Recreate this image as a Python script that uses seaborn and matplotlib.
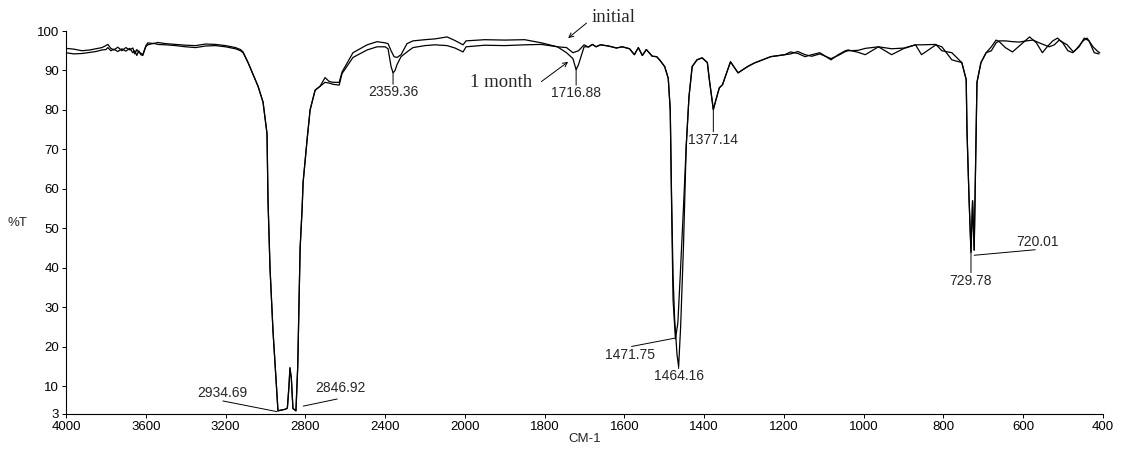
import numpy as np
import pandas as pd
import seaborn as sns
import matplotlib.pyplot as plt

# IR spectra, %T vs wavenumber (cm-1)
wn_initial = [4000, 3960, 3920, 3880, 3850, 3820, 3800, 3790, 3775, 3760, 3740, 3720, 3700, 3680, 3665,
              3655, 3645, 3635, 3625, 3615, 3600, 3590, 3560, 3540, 3500, 3450, 3400, 3350, 3300, 3250,
              3200, 3150, 3125, 3112, 3087, 3062, 3037, 3012, 2992, 2987, 2977, 2962, 2945, 2937, 2920,
              2900, 2890, 2882, 2877, 2870, 2862, 2847, 2838, 2832, 2826, 2816, 2811, 2791, 2776, 2751,
              2726, 2701, 2680, 2661, 2630, 2616, 2561, 2490, 2440, 2400, 2385, 2370, 2355, 2340, 2320,
              2290, 2260, 2200, 2150, 2089, 2050, 2009, 1997, 1950, 1900, 1850, 1808, 1768, 1745, 1729,
              1715, 1701, 1690, 1680, 1671, 1660, 1640, 1620, 1605, 1587, 1575, 1565, 1555, 1545, 1530,
              1519, 1511, 1499, 1490, 1485, 1482, 1478, 1472, 1466, 1460, 1452, 1445, 1438, 1430, 1418,
              1405, 1392, 1387, 1377, 1372, 1362, 1354, 1334, 1315, 1291, 1274, 1233, 1198, 1183, 1165,
              1147, 1130, 1110, 1082, 1064, 1046, 1039, 1014, 996, 963, 930, 895, 870, 855, 819,
              804, 779, 754, 743, 741, 736, 731, 727, 723, 718, 716, 706, 693, 680, 668,
              660, 645, 627, 610, 584, 567, 552, 540, 526, 514, 501, 488, 476, 466, 450,
              440, 425, 413, 408]
t_initial = [95.6, 95.4, 95.0, 95.2, 95.5, 95.8, 96.3, 96.6, 95.6, 95.2, 95.9, 95.0, 95.8, 95.2, 95.7,
             94.2, 95.3, 94.6, 94.4, 94.0, 96.2, 97.0, 96.8, 97.1, 96.8, 96.6, 96.4, 96.3, 96.7, 96.6,
             96.3, 95.8, 95.3, 94.7, 92.0, 89.0, 86.0, 82.0, 74.0, 57.0, 40.0, 24.0, 10.0, 3.8, 4.0,
             4.2, 4.5, 10.0, 14.8, 12.0, 4.4, 3.8, 15.0, 30.0, 45.0, 55.0, 61.7, 72.5, 80.0, 85.0,
             86.0, 88.2, 87.2, 87.0, 87.0, 89.6, 94.5, 96.5, 97.3, 97.0, 96.8, 95.0, 93.5, 93.3, 94.0,
             96.8, 97.5, 97.8, 98.0, 98.5, 97.6, 96.5, 97.5, 97.8, 97.7, 97.8, 97.0, 96.0, 95.8, 94.5,
             95.0, 96.5, 95.9, 96.6, 96.0, 96.5, 96.2, 95.7, 96.0, 95.5, 94.0, 95.8, 93.8, 95.3, 93.6,
             93.5, 92.6, 91.0, 88.0, 80.0, 58.0, 32.0, 22.0, 26.0, 38.0, 55.0, 70.8, 83.4, 91.0, 92.7,
             93.2, 92.0, 87.7, 80.1, 82.0, 85.6, 86.4, 92.2, 89.4, 91.0, 91.9, 93.5, 94.0, 94.7, 94.3,
             93.5, 94.0, 94.5, 92.7, 94.0, 95.0, 95.2, 94.6, 94.0, 96.0, 94.0, 95.8, 96.5, 94.0, 96.5,
             96.0, 92.7, 92.0, 87.7, 74.7, 58.0, 44.0, 57.0, 44.5, 74.7, 87.0, 92.0, 94.5, 96.0, 97.7,
             97.3, 95.8, 94.7, 96.2, 98.5, 97.0, 94.5, 96.0, 97.5, 98.2, 97.0, 95.0, 94.5, 95.5, 97.5,
             98.2, 96.0, 94.8, 94.5]

wn_month = [4000, 3960, 3920, 3880, 3850, 3820, 3800, 3790, 3775, 3760, 3740, 3720, 3700, 3680, 3665,
            3655, 3645, 3635, 3625, 3615, 3600, 3590, 3560, 3540, 3500, 3450, 3400, 3350, 3300, 3250,
            3200, 3150, 3125, 3112, 3087, 3062, 3037, 3012, 2992, 2987, 2977, 2962, 2945, 2937, 2920,
            2900, 2890, 2882, 2877, 2870, 2862, 2847, 2838, 2832, 2826, 2816, 2811, 2791, 2776, 2751,
            2726, 2701, 2680, 2661, 2630, 2616, 2561, 2490, 2440, 2400, 2385, 2370, 2360, 2350, 2340,
            2320, 2290, 2260, 2200, 2150, 2089, 2050, 2009, 1997, 1950, 1900, 1850, 1808, 1768, 1745,
            1729, 1721, 1715, 1701, 1690, 1680, 1671, 1660, 1640, 1620, 1605, 1587, 1575, 1565, 1555,
            1545, 1530, 1519, 1511, 1499, 1490, 1485, 1482, 1478, 1474, 1468, 1464, 1459, 1452, 1445,
            1438, 1430, 1418, 1405, 1392, 1387, 1377, 1372, 1362, 1354, 1334, 1315, 1291, 1274, 1233,
            1198, 1183, 1165, 1147, 1130, 1110, 1082, 1064, 1046, 1039, 1014, 996, 963, 930, 895,
            870, 855, 819, 804, 779, 754, 743, 741, 736, 731, 727, 723, 718, 716, 706,
            693, 680, 668, 660, 645, 627, 610, 592, 575, 560, 535, 522, 510, 490, 474,
            460, 447, 435, 422, 410]
t_month = [94.5, 94.2, 94.3, 94.6, 94.8, 95.2, 95.3, 95.8, 95.0, 95.4, 94.8, 95.5, 94.9, 95.6, 94.5,
           95.0, 93.8, 95.0, 94.0, 93.8, 96.0, 96.5, 96.9, 96.6, 96.5, 96.3, 96.0, 95.8, 96.2, 96.3,
           96.0, 95.5, 95.0, 94.5, 92.0, 89.0, 86.0, 82.0, 74.0, 57.0, 40.0, 24.0, 10.0, 3.8, 4.0,
           4.2, 4.5, 10.0, 14.5, 12.0, 4.4, 3.8, 15.0, 30.0, 45.0, 55.0, 61.7, 72.5, 80.0, 85.0,
           86.0, 87.0, 86.8, 86.5, 86.3, 89.2, 93.3, 95.2, 96.0, 96.0, 95.5, 91.0, 89.4, 90.0, 91.5,
           93.5, 94.7, 95.8, 96.3, 96.5, 96.3, 95.7, 94.7, 96.0, 96.4, 96.3, 96.5, 96.6, 96.0, 94.5,
           93.0, 90.2, 91.5, 96.0, 96.0, 96.6, 96.0, 96.5, 96.2, 95.7, 96.0, 95.5, 94.0, 95.8, 93.8,
           95.3, 93.6, 93.5, 92.6, 91.0, 88.0, 80.0, 60.0, 38.0, 27.0, 18.0, 15.0, 25.0, 45.0, 70.8,
           83.4, 91.0, 92.7, 93.2, 92.0, 87.7, 80.1, 82.0, 85.6, 86.4, 92.2, 89.4, 91.0, 91.9, 93.5,
           94.0, 94.2, 94.8, 94.0, 93.6, 94.2, 93.0, 93.8, 94.8, 95.0, 95.1, 95.6, 96.0, 95.5, 95.7,
           96.5, 96.5, 96.6, 95.0, 94.5, 92.0, 87.7, 74.7, 58.0, 44.0, 57.0, 44.5, 74.7, 87.0, 92.0,
           94.5, 95.0, 97.0, 97.5, 97.5, 97.3, 97.2, 97.5, 97.7, 97.0, 96.0, 96.5, 97.7, 96.5, 94.7,
           96.0, 98.2, 97.5, 94.5, 94.2]

x_ticks = [4000, 3600, 3200, 2800, 2400, 2000, 1800, 1600, 1400, 1200, 1000, 800, 600, 400]
y_ticks = [3, 10, 20, 30, 40, 50, 60, 70, 80, 90, 100]

# peak labels: text, text position, leader start, leader end
peaks = [
    ("2934.69", (3218, 8.3), (3213, 6.3), (2942, 3.6)),
    ("2846.92", (2626, 9.5), (2810, 5.0), (2640, 6.8)),
    ("2359.36", (2360, 84.6), (2360, 89.4), (2360, 86.5)),
    ("1716.88", (1721, 84.4), (1721, 90.2), (1721, 86.3)),
    ("1377.14", (1377, 72.5), (1377, 80.1), (1377, 74.5)),
    ("1471.75", (1587, 17.9), (1582, 20.1), (1474, 22.2)),
    ("1464.16", (1463, 12.6), (1464, 15.0), (1464, 14.5)),
    ("729.78", (731, 36.8), (731, 44.0), (731, 38.8)),
    ("720.01", (564, 46.6), (723, 43.2), (570, 44.6)),
]

# series labels: text, text position, arrow tail, arrow tip
series_labels = [
    ("initial", (1628, 103.3), (1695, 102.0), (1741, 98.2)),
    ("1 month", (1910, 86.9), (1808, 87.2), (1741, 92.2)),
]


def fwd(x):
    x = np.asarray(x, dtype=float)
    return np.where(x > 2000, 2000 + (x - 2000) / 2, x)


def inv(u):
    u = np.asarray(u, dtype=float)
    return np.where(u > 2000, 2000 + (u - 2000) * 2, u)


sns.set_style('ticks')
plt.rcParams['font.family'] = ['Liberation Sans', 'DejaVu Sans']

fig = plt.figure(figsize=(11.28, 4.59), dpi=100)
ax = fig.add_axes([66 / 1128, 1 - 414 / 459, 1037 / 1128, 383 / 459])

df_i = pd.DataFrame({'cm': wn_initial, 'T': t_initial})
df_m = pd.DataFrame({'cm': wn_month, 'T': t_month})
sns.lineplot(data=df_i, x='cm', y='T', ax=ax, color='black', lw=0.9, sort=False, estimator=None)
sns.lineplot(data=df_m, x='cm', y='T', ax=ax, color='black', lw=0.9, sort=False, estimator=None)

ax.set_xscale('function', functions=(fwd, inv))
ax.set_xlim(4000, 400)
ax.set_ylim(3, 100)
ax.set_xticks(x_ticks)
ax.set_xticklabels([str(t) for t in x_ticks])
ax.set_yticks(y_ticks)
ax.set_yticklabels([str(t) for t in y_ticks])
ax.tick_params(labelsize=9.5, length=3, width=0.7, colors='black', pad=2)
ax.set_xlabel('CM-1', fontsize=9.5, labelpad=0)
ax.set_ylabel('%T', fontsize=9.5, rotation=0, labelpad=14, va='center')
sns.despine(ax=ax)
for s in ['left', 'bottom']:
    ax.spines[s].set_linewidth(0.8)
    ax.spines[s].set_color('black')

for txt, pos, p0, p1 in peaks:
    ax.text(pos[0], pos[1], txt, fontsize=10, ha='center', va='center')
    ax.annotate('', xy=p1, xytext=p0, annotation_clip=False,
                arrowprops=dict(arrowstyle='-', lw=0.7, color='black', shrinkA=0, shrinkB=0))

serif = ['Liberation Serif', 'DejaVu Serif']
for txt, pos, tail, tip in series_labels:
    ax.text(pos[0], pos[1], txt, family=serif, fontsize=13.5, ha='center', va='center', clip_on=False)
    ax.annotate('', xy=tip, xytext=tail, annotation_clip=False,
                arrowprops=dict(arrowstyle='->', lw=0.7, color='black', shrinkA=0, shrinkB=0,
                                mutation_scale=8))

fig.savefig('out.png', dpi=100)
